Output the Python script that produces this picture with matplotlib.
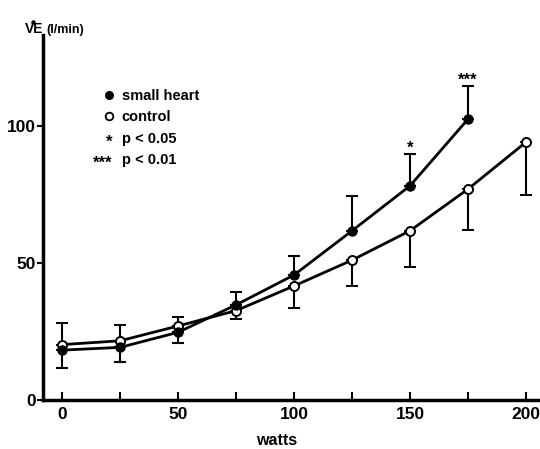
import matplotlib.pyplot as plt
from matplotlib.lines import Line2D

plt.rcParams['font.family'] = ['Liberation Sans Narrow', 'Liberation Sans', 'DejaVu Sans']
plt.rcParams['font.weight'] = 'bold'

watts = [0, 25, 50, 75, 100, 125, 150, 175, 200]

# small heart group (no value at 200 W)
heart_w = [0, 25, 50, 75, 100, 125, 150, 175]
heart_ve = [18.2, 19.2, 24.7, 34.7, 45.6, 61.7, 78.1, 102.4]
heart_err = [6.5, 5.3, 4.0, 4.6, 7.0, 12.5, 11.7, 11.9]
heart_up = [False, False, False, True, True, True, True, True]

# control group
ctrl_ve = [20.2, 21.6, 27.0, 32.6, 41.6, 51.0, 61.7, 76.9, 94.0]
ctrl_err = [8.0, 5.8, 3.4, 3.0, 8.0, 9.4, 13.4, 14.9, 19.4]
ctrl_up = [True, True, True, False, False, False, False, False, False]

stars_w = [150, 175]
stars_txt = ['*', '***']

fig = plt.figure(figsize=(5.4, 4.49), dpi=100)
ax = fig.add_axes([0.08, 0.109, 0.92, 0.813])

def errs(err, up):
    lo = [0 if u else e for e, u in zip(err, up)]
    hi = [e if u else 0 for e, u in zip(err, up)]
    return [lo, hi]

ax.errorbar(watts, ctrl_ve, yerr=errs(ctrl_err, ctrl_up), color='black',
            lw=2, elinewidth=1.5, capsize=4, capthick=1.5, marker='o', ms=6.5,
            mfc='white', mec='black', mew=1.4, zorder=3)
ax.errorbar(heart_w, heart_ve, yerr=errs(heart_err, heart_up), color='black',
            lw=2, elinewidth=1.5, capsize=4, capthick=1.5, marker='o', ms=6.5,
            mfc='black', mec='black', zorder=4)

# significance stars just above the caps
for w, t in zip(stars_w, stars_txt):
    i = heart_w.index(w)
    ax.text(w, heart_ve[i] + heart_err[i] + 0.4, t, ha='center', va='baseline',
            fontsize=12, fontweight='bold')

ax.set_xlim(-8.2, 206)
ax.set_ylim(0, 133)
ax.set_xticks(watts)
ax.set_xticklabels(['0', '', '50', '', '100', '', '150', '', '200'])
ax.set_yticks([0, 50, 100])
ax.tick_params(axis='x', direction='in', length=6, width=1.5, labelsize=12.5, pad=5)
ax.tick_params(axis='y', direction='out', length=4, width=1.5, labelsize=12.5, pad=1.5)
for s in ['top', 'right']:
    ax.spines[s].set_visible(False)
for s in ['left', 'bottom']:
    ax.spines[s].set_linewidth(2.5)

fig.text(0.513, 0.008, 'watts', fontsize=11.5, fontweight='bold', ha='center', va='baseline')

# y label: V-dot E (l/min)
fig.text(0.046, 0.9265, 'VE', fontsize=10, fontweight='bold', ha='left', va='baseline')
fig.add_artist(Line2D([0.061], [0.950], marker='o', ms=2.2, mfc='black', mec='black',
                      transform=fig.transFigure))
fig.text(0.086, 0.9265, '(l/min)', fontsize=9, fontweight='bold', ha='left', va='baseline')

# legend
leg_y = [0.777, 0.730, 0.682, 0.635]
leg_txt = ['small heart', 'control', 'p < 0.05', 'p < 0.01']
fig.add_artist(Line2D([0.202], [leg_y[0] + 0.011], marker='o', ms=5.5, mfc='black', mec='black',
                      transform=fig.transFigure))
fig.add_artist(Line2D([0.202], [leg_y[1] + 0.011], marker='o', ms=5.5, mfc='white', mec='black',
                      mew=1.3, transform=fig.transFigure))
fig.text(0.202, leg_y[2] - 0.008, '*', fontsize=12, ha='center', va='baseline')
fig.text(0.208, leg_y[3] - 0.008, '***', fontsize=12, ha='right', va='baseline')
for y, t in zip(leg_y, leg_txt):
    fig.text(0.225, y, t, fontsize=10.5, fontweight='bold', ha='left', va='baseline')

fig.savefig('out.png', dpi=100)
